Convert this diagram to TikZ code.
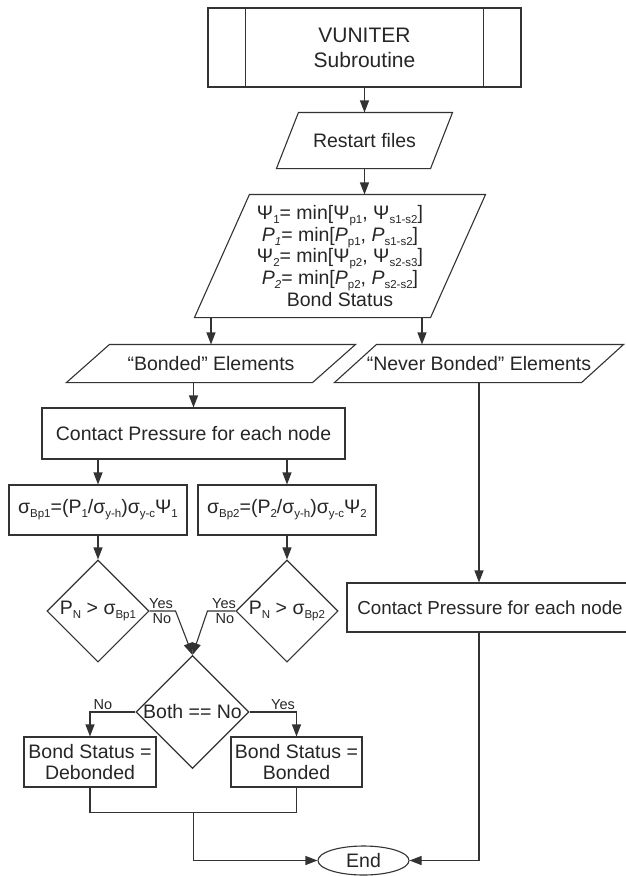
\documentclass[tikz,border=0pt]{standalone}
\usepackage{fontspec}
\setmainfont{Liberation Sans}
\usetikzlibrary{shapes.geometric, arrows.meta, positioning, calc}

% small lowered index
\newcommand{\low}[1]{\raisebox{-4pt}{\fontsize{11.5}{12}\selectfont #1}}

\tikzset{
  base/.style={font=\fontsize{19.5}{21.7}\selectfont, inner sep=0pt, align=center, text=black!85},
  box/.style={base, draw, rectangle},
  io/.style={base, rectangle},
  decision/.style={base, draw, diamond, aspect=1},
  arr/.style={-{Triangle[length=12pt,width=9pt]}},
  tag/.style={font=\fontsize{14.5}{15}\selectfont, inner sep=0pt, text=black!85},
}

\begin{document}
\begin{tikzpicture}[x=1pt, y=-1pt, line width=1.1pt, color=black!80]
\fill[white] (0,0) rectangle (625,876);
\useasboundingbox (0,0) rectangle (625,876);

% Subroutine
\node[box, minimum width=313pt, minimum height=79pt, font=\fontsize{21}{25}\selectfont] (sub) at (364.5,47.5) {VUNITER\\Subroutine};
\draw ($(sub.north west)+(38,0)$) -- ($(sub.south west)+(38,0)$);
\draw ($(sub.north east)+(-38,0)$) -- ($(sub.south east)+(-38,0)$);

% Restart files
\node[io, minimum width=175pt, minimum height=55pt] (restart) at (364.5,140.5) {Restart files};
\draw ($(restart.north west)+(22,0)$) -- (restart.north east) -- ($(restart.south east)+(-22,0)$) -- (restart.south west) -- cycle;

% Minimum values
\node[io, minimum width=290pt, minimum height=122pt] (minval) at (340,256)
  {Ψ\low{1}= min[Ψ\low{p1}, Ψ\low{s1-s2}]\\
   \textit{P\low{1}}= min[\textit{P}\low{p1}, \textit{P}\low{s1-s2}]\\
   Ψ\low{2}= min[Ψ\low{p2}, Ψ\low{s2-s3}]\\
   \textit{P\low{2}}= min[\textit{P}\low{p2}, \textit{P}\low{s2-s2}]\\
   Bond Status};
\draw ($(minval.north west)+(55,0)$) -- (minval.north east) -- ($(minval.south east)+(-55,0)$) -- (minval.south west) -- cycle;

% Element groups
\node[io, minimum width=288pt, minimum height=37pt] (bonded) at (211,363.5) {“Bonded” Elements};
\draw ($(bonded.north west)+(43,0)$) -- (bonded.north east) -- ($(bonded.south east)+(-43,0)$) -- (bonded.south west) -- cycle;
\node[io, minimum width=288pt, minimum height=37pt] (never) at (479,363.5) {“Never Bonded” Elements};
\draw ($(never.north west)+(42,0)$) -- (never.north east) -- ($(never.south east)+(-42,0)$) -- (never.south west) -- cycle;

% Bonded branch
\node[box, minimum width=303pt, minimum height=51pt] (cpl) at (193.5,433.5) {Contact Pressure for each node};
\node[box, minimum width=178pt, minimum height=50pt] (sig1) at (98,510)
  {σ\low{Bp1}=(P\low{1}/σ\low{y-h})σ\low{y-c}Ψ\low{1}};
\node[box, minimum width=178pt, minimum height=50pt] (sig2) at (287,510)
  {σ\low{Bp2}=(P\low{2}/σ\low{y-h})σ\low{y-c}Ψ\low{2}};
\node[decision, minimum width=102pt, minimum height=102pt] (dia1) at (98,611) {P\low{N} > σ\low{Bp1}};
\node[decision, minimum width=102pt, minimum height=102pt] (dia2) at (287,611) {P\low{N} > σ\low{Bp2}};
\node[decision, minimum width=111pt, minimum height=111pt] (both) at (192.5,712) {Both == No};
\node[box, minimum width=132pt, minimum height=50pt] (deb) at (90,762) {Bond Status =\\Debonded};
\node[box, minimum width=131pt, minimum height=50pt] (bnd) at (296.5,762) {Bond Status =\\Bonded};

% Never bonded branch
\node[box, minimum width=286pt, minimum height=49pt, font=\fontsize{18.8}{21}\selectfont] (cpr) at (490,607.5) {Contact Pressure for each node};

% End
\node[base, draw, ellipse, minimum width=91pt, minimum height=29pt] (finish) at (363.5,860.5) {End};

% Yes / No tags
\node[tag, anchor=south] (yes1) at (161,609.5) {Yes};
\node[tag, anchor=north] (no1) at (162,613) {No};
\node[tag, anchor=south] (yes2) at (224,609.5) {Yes};
\node[tag, anchor=north] (no2) at (225,613) {No};
\node[tag, anchor=south] (no3) at (103,710) {No};
\node[tag, anchor=south] (yes3) at (283,710) {Yes};

% Connectors
\draw[arr] (sub) -- (restart);
\draw[arr] (restart.south) -- (restart.south |- minval.north);
\draw[arr] (minval.south -| bonded.north) -- (bonded.north);
\draw[arr] ($(minval.south)+(82,0)$) -- ($(never.north)+(-57,0)$);
\draw[arr] (bonded.south -| cpl.north) -- (cpl.north);
\draw[arr] (cpl.south -| sig1.north) -- (sig1.north);
\draw[arr] (cpl.south -| sig2.north) -- (sig2.north);
\draw[arr] (sig1) -- (dia1);
\draw[arr] (sig2) -- (dia2);
\draw[arr] (dia1.east) -- ++(26,0) -- (both.north);
\draw[arr] (dia2.west) -- ++(-28,0) -- (both.north);
\draw[arr] (both.west) -| (deb.north);
\draw[arr] (both.east) -| (bnd.north);
\draw (deb.south) -- ++(0,25) -| (bnd.south);
\coordinate (join) at ($(deb.south)!0.5!(bnd.south)+(0,25)$);
\draw[arr] (join) |- (finish.west);
\draw[arr] (never.south) -- (never.south |- cpr.north);
\draw[arr] (cpr.south -| never.south) |- (finish.east);
\end{tikzpicture}
\end{document}
